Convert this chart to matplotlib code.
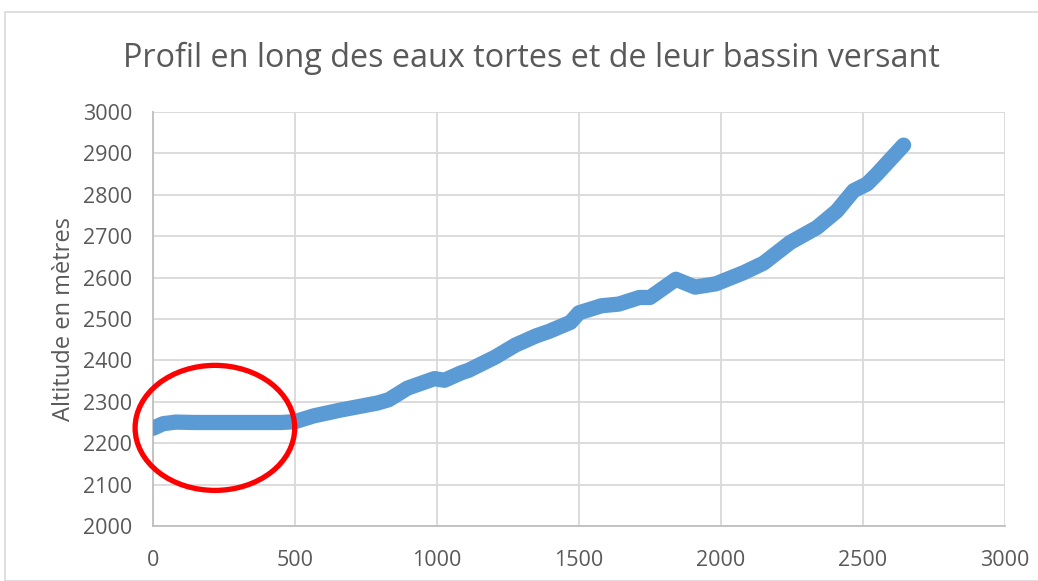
import matplotlib
matplotlib.use("Agg")
import matplotlib.pyplot as plt
from matplotlib.patches import Ellipse, Rectangle

# Data (distance, altitude)
distance = [0, 35, 80, 150, 300, 450, 500, 566, 660, 790, 830, 896, 991, 1026,
            1085, 1111, 1205, 1276, 1348, 1394, 1470, 1500, 1579, 1640, 1713,
            1750, 1841, 1909, 1982, 2080, 2150, 2244, 2338, 2408, 2467, 2514,
            2549, 2643]
altitude = [2236, 2247, 2251, 2250, 2250, 2250, 2252, 2266, 2280, 2297, 2305,
            2333, 2356, 2352, 2370, 2376, 2408, 2437, 2459, 2470, 2492, 2515,
            2532, 2536, 2552, 2552, 2596, 2577, 2585, 2612, 2635, 2685, 2721,
            2761, 2810, 2826, 2850, 2920]
x_ticks = [0, 500, 1000, 1500, 2000, 2500, 3000]
y_ticks = [2000, 2100, 2200, 2300, 2400, 2500, 2600, 2700, 2800, 2900, 3000]

title = "Profil en long des eaux tortes et de leur bassin versant"
ylabel = "Altitude en mètres"

plt.rcParams['font.family'] = ['Open Sans', 'DejaVu Sans']
W, H = 1038, 581
fig = plt.figure(figsize=(W / 100, H / 100), dpi=100)

# chart area border
fig.patches.append(Rectangle((5 / W, 0), 1.2, 1 - 12 / H, transform=fig.transFigure,
                             fill=False, edgecolor='#D9D9D9', linewidth=1.2))

ax = fig.add_axes([153 / W, 1 - 526 / H, (1005 - 153) / W, (526 - 112) / H])
ax.plot(distance, altitude, color='#5B9BD5', linewidth=11,
        solid_capstyle='round', solid_joinstyle='round', zorder=3)

ax.set_xlim(0, 3000)
ax.set_ylim(2000, 3000)
ax.set_xticks(x_ticks)
ax.set_yticks(y_ticks)
ax.grid(True, color='#D9D9D9', linewidth=1.3)
ax.set_axisbelow(True)
for s in ['top', 'right']:
    ax.spines[s].set_visible(False)
for s in ['left', 'bottom']:
    ax.spines[s].set_color('#BFBFBF')
    ax.spines[s].set_linewidth(1.3)
ax.tick_params(axis='both', length=0, labelsize=15.5, colors='#595959')
ax.tick_params(axis='x', pad=17)
ax.tick_params(axis='y', pad=15)
ax.set_ylabel(ylabel, fontsize=17, color='#595959', labelpad=5)
fig.text(531 / W, 1 - 58 / H, title, ha='center', va='center',
         fontsize=23.3, color='#595959')

# red ellipse highlighting the flat section
ell = Ellipse((218, 2237), 562, 302, fill=False, edgecolor='#FF0000',
              linewidth=3.8, zorder=4, clip_on=False)
ax.add_patch(ell)

fig.savefig('out.png', dpi=100)
